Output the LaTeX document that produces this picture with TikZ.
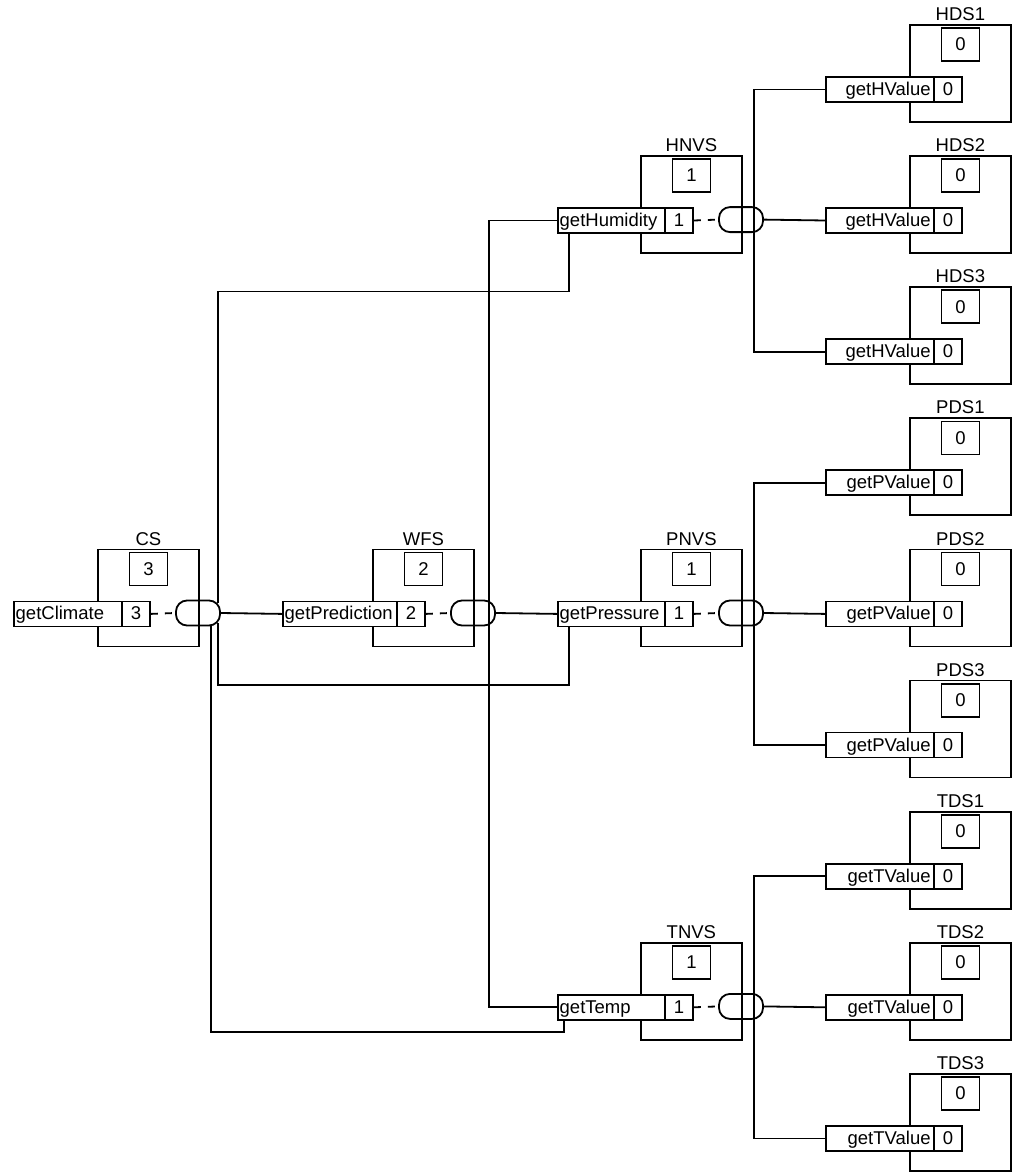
\documentclass[tikz,border=0pt]{standalone}
\usepackage{fontspec}
\setmainfont{Liberation Sans}
\usetikzlibrary{calc}
\newcommand{\figfont}{\fontsize{18.5}{22}\selectfont}
\tikzset{
  svcbox/.style={draw, line width=1.8pt, minimum width=101pt, minimum height=97pt, anchor=north west, inner sep=0pt},
  lbl/.style={anchor=base, inner sep=0pt, font=\figfont},
  valbox/.style={draw, fill=white, line width=1.8pt, minimum width=38pt, minimum height=33pt, inner sep=0pt, font=\figfont},
  cellbox/.style={draw, fill=white, line width=1.8pt, minimum height=25pt, inner sep=0pt, anchor=north west, font=\figfont},
  mtext/.style={inner sep=0pt, font=\figfont},
  al-west/.style={anchor=base west, xshift=2.5pt},
  al-east/.style={anchor=base east, xshift=-4pt},
  capsule/.style={draw, line width=1.8pt, rounded corners=11pt, minimum width=44pt, minimum height=25pt, inner sep=0pt},
  wire/.style={line width=1.8pt},
  dashwire/.style={line width=1.8pt, dash pattern=on 7pt off 7pt},
}
% #1 id, #2 label, #3 box left, #4 top, #5 value, #6 method, #7 method left, #8 align
\newcommand{\svc}[8]{%
  \node[svcbox] (#1) at (#3,#4) {};
  \node[lbl] (#1-l) at ($(#1.north)+(0,-3.5)$) {#2};
  \node[valbox] (#1-v) at ($(#1.north)+(0,20.5)$) {#5};
  \node[cellbox, minimum width={#3+24-#7}] (#1-m) at (#7,#4+52) {};
  \node[cellbox, minimum width=28pt] (#1-mv) at (#3+24,#4+52) {};
  \node[mtext, anchor=base] (#1-mvt) at ($(#1-mv.center)+(0,6)$) {#5};
  \node[mtext, al-#8] (#1-t) at ($(#1-m.#8)+(0,6)$) {#6};
}
% capsule + dashed link: #1 id, #2 box left, #3 top
\newcommand{\capsl}[3]{%
  \node[capsule] (#1-c) at (#2+101,#3+64.5) {};
  \draw[dashwire] (#1-mv.east) -- (#1-c.west);
}
\begin{document}
\begin{tikzpicture}[x=1pt,y=-1pt]
\useasboundingbox (0,0) rectangle (1024,1172);

% left side
\svc{cs}{CS}{97}{548.5}{3}{getClimate}{13}{west}
\capsl{cs}{97}{548.5}
\svc{wfs}{WFS}{372}{548.5}{2}{getPrediction}{282}{west}
\capsl{wfs}{372}{548.5}

% NVS column
\svc{hnvs}{HNVS}{640}{155.1}{1}{getHumidity}{557}{west}
\capsl{hnvs}{640}{155.1}
\svc{pnvs}{PNVS}{640}{548.5}{1}{getPressure}{557}{west}
\capsl{pnvs}{640}{548.5}
\svc{tnvs}{TNVS}{640}{941.9}{1}{getTemp}{557}{west}
\capsl{tnvs}{640}{941.9}

% data sources
\svc{hds1}{HDS1}{909}{24}{0}{getHValue}{825}{east}
\svc{hds2}{HDS2}{909}{155.1}{0}{getHValue}{825}{east}
\svc{hds3}{HDS3}{909}{286.25}{0}{getHValue}{825}{east}
\svc{pds1}{PDS1}{909}{417.4}{0}{getPValue}{825}{east}
\svc{pds2}{PDS2}{909}{548.5}{0}{getPValue}{825}{east}
\svc{pds3}{PDS3}{909}{679.6}{0}{getPValue}{825}{east}
\svc{tds1}{TDS1}{909}{810.75}{0}{getTValue}{825}{east}
\svc{tds2}{TDS2}{909}{941.9}{0}{getTValue}{825}{east}
\svc{tds3}{TDS3}{909}{1073}{0}{getTValue}{825}{east}

% CS connections
\coordinate (cs-tp) at ($(cs-c.north east)+(-3,3.5)$);
\coordinate (cs-bp) at ($(cs-c.south east)+(-3,-3.5)$);
\coordinate (cs-bq) at ($(cs-c.south east)+(-10,0)$);
\coordinate (hnvs-in) at ($(hnvs-m.south west)+(12,0)$);
\coordinate (pnvs-in) at ($(pnvs-m.south west)+(12,0)$);
\coordinate (tnvs-in) at ($(tnvs-m.south west)+(7,0)$);
\draw[wire] (cs-c.east) -- (wfs-m.west);
\draw[wire] (cs-tp) |- ($(hnvs-in)+(0,57.5)$) -- (hnvs-in);
\draw[wire] (cs-bp) |- ($(pnvs-in)+(0,58)$) -- (pnvs-in);
\draw[wire] (cs-bq) |- ($(tnvs-in)+(0,11)$) -- (tnvs-in);

% WFS connections
\coordinate (wfs-x) at ($(wfs-c.east)+(-7,0)$);
\draw[wire] (wfs-c.east) -- (pnvs-m.west);
\draw[wire] (hnvs-m.west) -| (wfs-x) |- (tnvs-m.west);

% NVS connections
\foreach \s in {h,p,t}{
  \coordinate (\s nvs-x) at ($(\s nvs-c.east)+(-10,0)$);
  \draw[wire] (\s nvs-c.east) -- (\s ds2-m.west);
  \draw[wire] (\s ds1-m.west) -| (\s nvs-x) |- (\s ds3-m.west);
}
\end{tikzpicture}
\end{document}
